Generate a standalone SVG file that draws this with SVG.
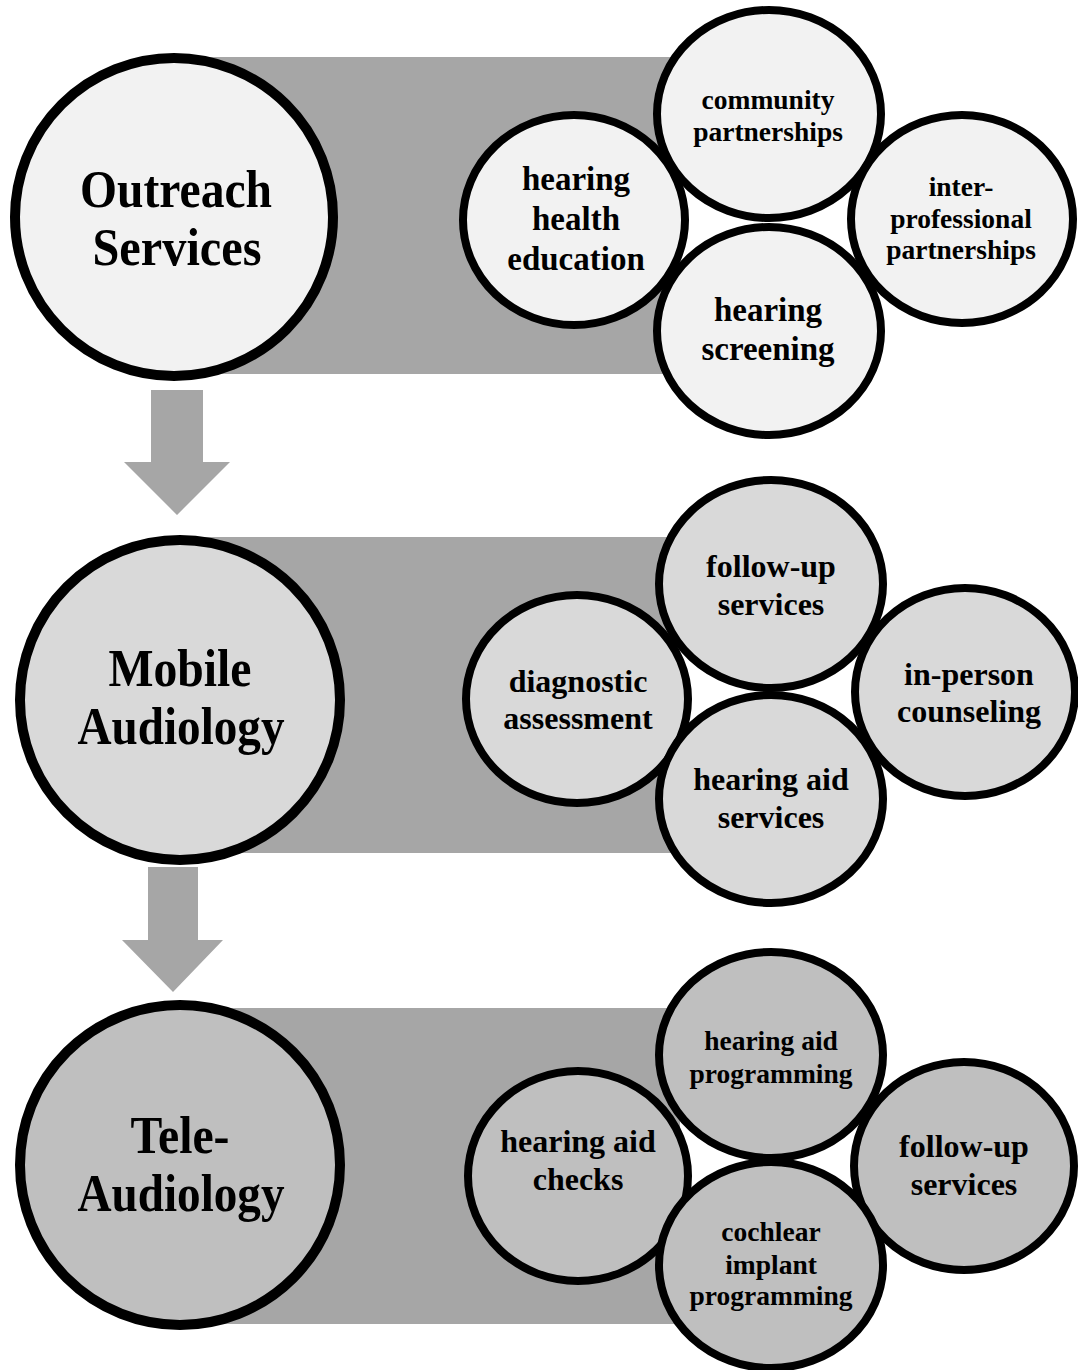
<svg xmlns="http://www.w3.org/2000/svg" width="1078" height="1370" viewBox="0 0 1078 1370">
<style>
.band{fill:#a6a6a6}
.arrow{fill:#a6a6a6}
.big{stroke:#000;stroke-width:10}
.small{stroke:#000;stroke-width:8}
.s1{fill:#f2f2f2}
.s2{fill:#d9d9d9}
.s3{fill:#bfbfbf}
text{font-family:"Liberation Serif","Times New Roman",serif;font-weight:bold;fill:#000;text-anchor:middle}
.tb{font-size:53px}
.tl{font-size:33px}
.tm{font-size:32px}
.ts{font-size:27.5px}
</style>
<rect width="1078" height="1370" fill="#fff"/>
<g id="connectors">
<rect class="band" x="175" y="57" width="505" height="317"/>
<rect class="band" x="180" y="537" width="500" height="316"/>
<rect class="band" x="180" y="1008" width="500" height="316"/>
<polygon class="arrow" points="151,390 203,390 203,462 230,462 177,515 124,462 151,462"/>
<polygon class="arrow" points="148,867 198,867 198,940 223,940 173,992 122,940 148,940"/>
</g>
<g id="outreach-services">
<circle class="big s1" cx="174" cy="217" r="159"/>
<text class="tb" x="176" y="207" textLength="192" lengthAdjust="spacingAndGlyphs">Outreach</text>
<text class="tb" x="177" y="265" textLength="169" lengthAdjust="spacingAndGlyphs">Services</text>
</g>
<g id="hearing-health-education">
<ellipse class="small s1" cx="574" cy="220" rx="111" ry="105"/>
<text class="tl" x="576" y="190">hearing</text>
<text class="tl" x="576" y="230">health</text>
<text class="tl" x="576" y="270">education</text>
</g>
<g id="community-partnerships">
<ellipse class="small s1" cx="769" cy="114" rx="112" ry="104"/>
<text class="ts" x="768" y="109">community</text>
<text class="ts" x="768" y="141">partnerships</text>
</g>
<g id="inter-professional-partnerships">
<ellipse class="small s1" cx="962" cy="219" rx="111" ry="104"/>
<text class="ts" x="961" y="196">inter-</text>
<text class="ts" x="961" y="228">professional</text>
<text class="ts" x="961" y="259">partnerships</text>
</g>
<g id="hearing-screening">
<ellipse class="small s1" cx="769" cy="331" rx="112" ry="104"/>
<text class="tl" x="768" y="321">hearing</text>
<text class="tl" x="768" y="360">screening</text>
</g>
<g id="mobile-audiology">
<circle class="big s2" cx="180" cy="700" r="160"/>
<text class="tb" x="180" y="686" textLength="143" lengthAdjust="spacingAndGlyphs">Mobile</text>
<text class="tb" x="181" y="744" textLength="207" lengthAdjust="spacingAndGlyphs">Audiology</text>
</g>
<g id="diagnostic-assessment">
<ellipse class="small s2" cx="577" cy="699" rx="111" ry="104"/>
<text class="tm" x="578" y="692">diagnostic</text>
<text class="tm" x="578" y="729">assessment</text>
</g>
<g id="follow-up-services-mobile">
<ellipse class="small s2" cx="771" cy="584" rx="112" ry="104"/>
<text class="tm" x="771" y="577">follow-up</text>
<text class="tm" x="771" y="615">services</text>
</g>
<g id="in-person-counseling">
<ellipse class="small s2" cx="965" cy="692" rx="110" ry="104"/>
<text class="tm" x="969" y="685">in-person</text>
<text class="tm" x="969" y="722">counseling</text>
</g>
<g id="hearing-aid-services">
<ellipse class="small s2" cx="771" cy="799" rx="112" ry="104"/>
<text class="tm" x="771" y="790">hearing aid</text>
<text class="tm" x="771" y="828">services</text>
</g>
<g id="tele-audiology">
<circle class="big s3" cx="180" cy="1165" r="160"/>
<text class="tb" x="180" y="1153" textLength="99" lengthAdjust="spacingAndGlyphs">Tele-</text>
<text class="tb" x="181" y="1211" textLength="207" lengthAdjust="spacingAndGlyphs">Audiology</text>
</g>
<g id="hearing-aid-checks">
<ellipse class="small s3" cx="578" cy="1176" rx="110" ry="105"/>
<text class="tm" x="578" y="1152">hearing aid</text>
<text class="tm" x="578" y="1190">checks</text>
</g>
<g id="hearing-aid-programming">
<ellipse class="small s3" cx="771" cy="1055" rx="112" ry="103"/>
<text class="ts" x="771" y="1050">hearing aid</text>
<text class="ts" x="771" y="1083">programming</text>
</g>
<g id="follow-up-services-tele">
<ellipse class="small s3" cx="964" cy="1166" rx="110" ry="104"/>
<text class="tm" x="964" y="1157">follow-up</text>
<text class="tm" x="964" y="1195">services</text>
</g>
<g id="cochlear-implant-programming">
<ellipse class="small s3" cx="771" cy="1265" rx="112" ry="103"/>
<text class="ts" x="771" y="1241">cochlear</text>
<text class="ts" x="771" y="1274">implant</text>
<text class="ts" x="771" y="1305">programming</text>
</g>
</svg>
